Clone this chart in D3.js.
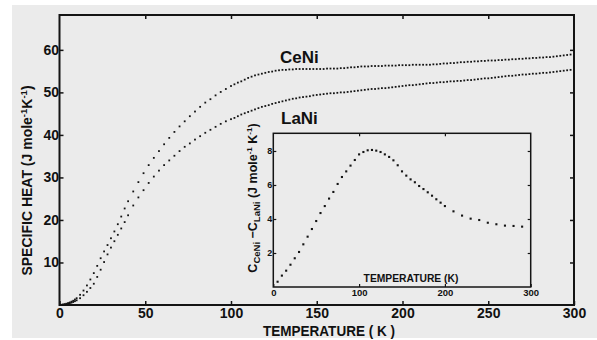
<!DOCTYPE html>
<html><head><meta charset="utf-8">
<script src="https://cdn.jsdelivr.net/npm/d3@7"></script>
<style>
body{margin:0;background:#fff}
svg{display:block}
text{font-family:"Liberation Sans",Arial,sans-serif;fill:#111}
</style>
</head><body>
<svg id="c" width="597" height="340"></svg>
<script>
// ---- DATA ----
const temps = [1,2,3,4,5,6,7,8,9,10,
 12,14,16,18,20,22,24,26,28,30,32,34,36,38,40,
 43,46,49,52,55,58,61,64,67,70,73,76,79,82,85,88,91,94,97,
 100,102,104,106,108,110,112,114,116,118,120,122,124,126,128,130,132,134,136,138,140,142,
 144,146,148,150,152,154,156,158,160,162,164,166,168,170,172,174,176,178,180,182,184,186,188,190,192,194,196,198,
 200,202,204,206,208,210,212,214,216,218,220,222,224,226,228,230,232,234,236,238,240,242,244,246,248,
 250,252,254,256,258,260,262,264,266,268,270,272,274,276,278,280,282,284,286,288,290,292,294,296,298];

const ceniHeat = [0.05,0.1,0.2,0.3,0.45,0.6,0.8,1.0,1.3,1.6,
 2.4,3.4,4.6,6.0,7.5,9.2,11.0,12.6,14.1,15.7,17.3,19.0,20.8,22.7,24.4,
 26.7,28.9,31.0,32.9,34.6,36.2,37.8,39.3,40.7,42.0,43.2,44.4,45.5,46.6,47.6,48.4,49.3,50.1,50.8,
 51.5,51.9,52.3,52.6,53.0,53.4,53.7,54.0,54.2,54.4,54.6,54.8,54.9,55.1,55.2,55.3,55.3,55.4,55.4,55.5,55.5,55.5,
 55.5,55.5,55.5,55.5,55.5,55.5,55.6,55.6,55.6,55.6,55.7,55.7,55.8,55.9,55.9,56.0,56.1,56.1,56.1,56.2,56.2,56.2,56.2,56.3,56.3,56.3,56.3,56.4,
 56.4,56.4,56.4,56.5,56.5,56.5,56.5,56.5,56.5,56.6,56.6,56.7,56.8,56.8,56.9,56.9,57.0,57.1,57.1,57.2,57.2,57.3,57.3,57.4,57.4,
 57.5,57.5,57.5,57.6,57.6,57.7,57.7,57.8,57.8,57.9,57.9,58.0,58.0,58.1,58.1,58.2,58.2,58.3,58.3,58.4,58.5,58.6,58.7,58.8,58.9];

const laniHeat = [0.03,0.07,0.12,0.2,0.3,0.4,0.55,0.7,0.9,1.1,
 1.6,2.3,3.1,4.0,5.0,6.6,8.3,10.1,11.9,13.5,15.0,16.5,18.0,19.5,21.1,
 23.4,25.3,27.0,28.7,30.2,31.6,32.9,34.0,35.1,36.2,37.2,38.0,38.9,39.7,40.5,41.2,41.9,42.6,43.2,
 43.7,44.0,44.4,44.8,45.1,45.4,45.7,46.0,46.3,46.6,46.8,47.0,47.3,47.5,47.7,47.9,48.1,48.3,48.5,48.6,48.8,48.9,
 49.0,49.1,49.3,49.4,49.5,49.6,49.7,49.8,49.8,49.9,50.0,50.0,50.1,50.2,50.3,50.4,50.5,50.6,50.7,50.8,50.8,50.9,51.0,51.0,51.1,51.2,51.3,51.4,
 51.5,51.6,51.7,51.7,51.8,51.9,52.0,52.1,52.2,52.2,52.3,52.4,52.4,52.5,52.6,52.6,52.7,52.7,52.8,52.9,52.9,53.0,53.1,53.2,53.3,
 53.3,53.4,53.5,53.6,53.7,53.8,53.9,53.9,54.0,54.1,54.2,54.2,54.3,54.4,54.4,54.5,54.6,54.6,54.7,54.8,54.9,55.0,55.1,55.2,55.3];

const insetTemps = [5,10,15,20,25,30,35,40,45,50,55,60,65,70,75,80,85,90,95,100,
 105,110,115,120,125,130,135,140,145,150,155,160,165,170,175,180,185,190,195,200,
 210,220,230,240,250,260,270,280,290];
const insetDiff = [0.31,0.67,0.96,1.31,1.69,2.06,2.51,2.96,3.41,3.88,4.35,4.76,5.2,5.59,6.06,6.47,6.8,7.14,7.47,7.8,
 7.94,8.04,8.06,8.02,7.94,7.8,7.65,7.45,7.16,6.8,6.55,6.33,6.16,5.94,5.76,5.57,5.37,5.16,4.96,4.76,
 4.45,4.2,4.02,3.94,3.78,3.69,3.61,3.59,3.55];

const xTicks = [0,50,100,150,200,250,300];
const yTicks = [10,20,30,40,50,60];
const insetXTicks = [0,100,200,300];
const insetYTicks = [2,4,6,8];
const seriesNames = ["CeNi","LaNi"];

// ---- DRAWING ----
const svg = d3.select("#c");
const ink = "#141414";
const FF = '"Liberation Sans",Arial,sans-serif';
svg.append("rect").attr("x",12).attr("y",5).attr("width",585).attr("height",333).attr("fill","#ebebeb");

const x = d3.scaleLinear().domain([0,300]).range([59.5,574]);
const y = d3.scaleLinear().domain([0,68.2]).range([305,15]);

function styleAxis(g, fs, sw){
  g.attr("font-family",FF).attr("font-size",fs).attr("font-weight","bold");
  g.select(".domain").remove();
  g.selectAll(".tick line").attr("stroke",ink).attr("stroke-width",sw);
  g.selectAll(".tick text").attr("fill",ink);
}

svg.append("g").attr("transform","translate(0,305)")
  .call(d3.axisBottom(x).tickValues(xTicks).tickSizeInner(-4).tickSizeOuter(0).tickPadding(3))
  .call(g=>styleAxis(g,14,1.5));
svg.append("g").attr("transform","translate(59.5,0)")
  .call(d3.axisLeft(y).tickValues(yTicks).tickSizeInner(-4).tickSizeOuter(0).tickPadding(0.5))
  .call(g=>styleAxis(g,14,1.5));
svg.append("g").attr("transform","translate(0,15)")
  .call(d3.axisTop(x).tickValues(xTicks.slice(1,-1)).tickSizeInner(-4).tickSizeOuter(0).tickFormat(""))
  .call(g=>styleAxis(g,14,1.5));
svg.append("g").attr("transform","translate(574,0)")
  .call(d3.axisRight(y).tickValues(yTicks).tickSizeInner(-4).tickSizeOuter(0).tickFormat(""))
  .call(g=>styleAxis(g,14,1.5));
svg.append("rect").attr("x",x(0)).attr("y",y(68.2)).attr("width",x(300)-x(0)).attr("height",y(0)-y(68.2))
  .attr("fill","none").attr("stroke",ink).attr("stroke-width",2);

// main dots
function dots(g, xs, ys, sx, sy, s){
  g.selectAll(null).data(d3.zip(xs,ys)).enter().append("rect")
    .attr("x",d=>sx(d[0])-s/2).attr("y",d=>sy(d[1])-s/2)
    .attr("width",s).attr("height",s).attr("fill",ink);
}
dots(svg.append("g"), temps, ceniHeat, x, y, 1.8);
dots(svg.append("g"), temps, laniHeat, x, y, 1.8);

// curve labels
svg.append("text").attr("x",280).attr("y",62.5).attr("font-size",17).attr("font-weight","bold").text(seriesNames[0]);
svg.append("text").attr("x",281).attr("y",124).attr("font-size",17).attr("font-weight","bold").text(seriesNames[1]);

// axis titles
svg.append("text").attr("x",329).attr("y",336).attr("text-anchor","middle")
  .attr("font-size",15).attr("font-weight","bold").attr("textLength",132).attr("lengthAdjust","spacingAndGlyphs")
  .text("TEMPERATURE ( K )");
const yt = svg.append("text").attr("transform","translate(32,180.5) rotate(-90)").attr("text-anchor","middle")
  .attr("font-size",14).attr("font-weight","bold");
yt.append("tspan").text("SPECIFIC HEAT (J mole");
yt.append("tspan").attr("dy",-5).attr("font-size",9.5).text("-1");
yt.append("tspan").attr("dy",5).text("K");
yt.append("tspan").attr("dy",-5).attr("font-size",9.5).text("-1");
yt.append("tspan").attr("dy",5).text(")");

// ---- INSET ----
const xi = d3.scaleLinear().domain([0,300]).range([273.3,530.7]);
const yi = d3.scaleLinear().domain([0,9.04]).range([287,133.3]);
svg.append("rect").attr("x",xi(0)).attr("y",yi(9.04)).attr("width",xi(300)-xi(0)).attr("height",yi(0)-yi(9.04))
  .attr("fill","#ebebeb");
svg.append("g").attr("transform","translate(0,287)")
  .call(d3.axisBottom(xi).tickValues(insetXTicks).tickSizeInner(-3).tickSizeOuter(0).tickPadding(2))
  .call(g=>styleAxis(g,9.5,1.2));
svg.append("g").attr("transform","translate(273.3,0)")
  .call(d3.axisLeft(yi).tickValues(insetYTicks).tickSizeInner(-3).tickSizeOuter(0).tickPadding(1))
  .call(g=>styleAxis(g,9,1.2));
svg.append("g").attr("transform","translate(0,133.3)")
  .call(d3.axisTop(xi).tickValues(insetXTicks.slice(1,-1)).tickSizeInner(-3).tickSizeOuter(0).tickFormat(""))
  .call(g=>styleAxis(g,9,1.2));
svg.append("g").attr("transform","translate(530.7,0)")
  .call(d3.axisRight(yi).tickValues(insetYTicks).tickSizeInner(-3).tickSizeOuter(0).tickFormat(""))
  .call(g=>styleAxis(g,9,1.2));
svg.append("rect").attr("x",xi(0)).attr("y",yi(9.04)).attr("width",xi(300)-xi(0)).attr("height",yi(0)-yi(9.04))
  .attr("fill","none").attr("stroke",ink).attr("stroke-width",1.5);
dots(svg.append("g"), insetTemps, insetDiff, xi, yi, 2.1);

svg.append("text").attr("x",411).attr("y",282).attr("text-anchor","middle")
  .attr("font-size",10.3).attr("font-weight","bold").text("TEMPERATURE (K)");
const it = svg.append("text").attr("transform","translate(256.5,198) rotate(-90)").attr("text-anchor","middle")
  .attr("font-size",12.5).attr("font-weight","bold");
it.append("tspan").text("C");
it.append("tspan").attr("dy",3).attr("font-size",9.5).text("CeNi");
it.append("tspan").attr("dy",-3).text(" \u2212C");
it.append("tspan").attr("dy",3).attr("font-size",9.5).text("LaNi");
it.append("tspan").attr("dy",-3).text(" (J mole");
it.append("tspan").attr("dy",-4.5).attr("font-size",8).text("-1");
it.append("tspan").attr("dy",4.5).text(" K");
it.append("tspan").attr("dy",-4.5).attr("font-size",8).text("-1");
it.append("tspan").attr("dy",4.5).text(")");
</script>
</body></html>
